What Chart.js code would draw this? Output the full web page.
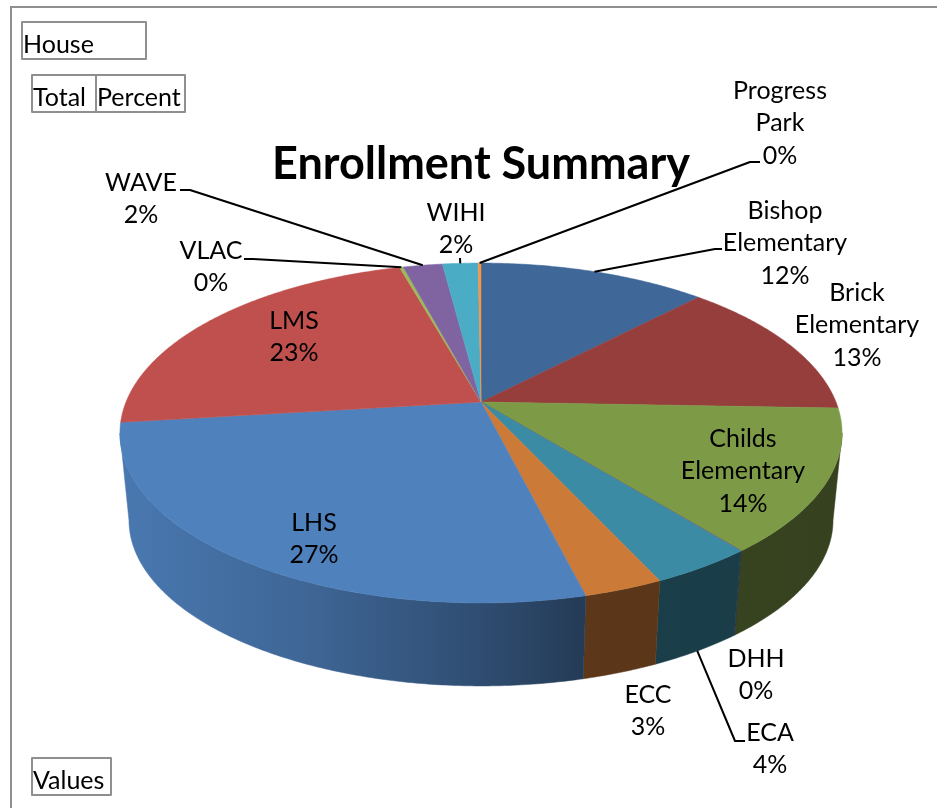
<!DOCTYPE html>
<html>
<head>
<meta charset="utf-8">
<style>html,body{margin:0;padding:0;background:#fff;overflow:hidden}canvas{display:block}</style>
<script src="https://cdn.jsdelivr.net/npm/chart.js@4"></script>
</head>
<body>
<canvas id="c" width="937" height="808"></canvas>
<script>
const chartTitle = 'Enrollment Summary';
const categories = ['Bishop Elementary','Brick Elementary','Childs Elementary','DHH','ECA','ECC','LHS','LMS','VLAC','WAVE','WIHI','Progress Park'];
const values = [12.2,13.4,13.6,0.03,3.9,3.0,27.0,22.6,0.2,2.1,1.9,0.15];
const percentLabels = ['12%','13%','14%','0%','4%','3%','27%','23%','0%','2%','2%','0%'];
const colors = ['#3F6797','#953E3C','#7D9A47','#644F80','#3B8BA5','#CC7A37','#4F81BD','#C0504D','#9BBB59','#8064A2','#4BACC6','#F79646'];
const fieldButtons = ['House','Total','Percent','Values'];

// layout of the text around the pie (not data)
const labelLines = [['Bishop','Elementary'],['Brick','Elementary'],['Childs','Elementary'],['DHH'],['ECA'],['ECC'],['LHS'],['LMS'],['VLAC'],['WAVE'],['WIHI'],['Progress','Park']];
const labelX = [785,857,743,756,770,648,314,294,211,141,456,780];
const labelY = [211,293,439,659,733,695,523,321,251,183,213,91];
const lineStep = 32.3;
// leaders: slice index, elbow points, whether anchored on bottom rim
const leaders = [
  {i:0, pts:[[715,249],[722,249]]},
  {i:4, pts:[[735,741],[745,741]], bottom:true},
  {i:8, pts:[[253,259],[244,259]]},
  {i:9, pts:[[190,190],[180,190]]},
  {i:10, pts:[[460,258]]},
  {i:11, pts:[[750,162],[760,162]]}
];
const buttonBoxes = [[22,22,124,37],[32,75,64,37],[96,75,89,37],[32,758,79,37]];

// pie projection
const P = {x:481, y:402, a:355, b:164.3, k:0.1824, s:0.975, yb:490};
function top3d(t){const u=Math.cos(t),v=Math.sin(t),w=1-P.k*v;return [P.x+P.a*u/w,P.y+P.b*v/w];}
function bot3d(t){const u=Math.cos(t),v=Math.sin(t),w=1-P.k*v;return [P.x+P.s*P.a*u/w,P.yb+P.s*P.b*v/w];}
function shade(hex,f){const n=parseInt(hex.slice(1),16);return `rgb(${Math.round((n>>16&255)*f)},${Math.round((n>>8&255)*f)},${Math.round((n&255)*f)})`;}
const FONT='Lato, Carlito, sans-serif';

const pie3d = {
  id:'pie3d',
  beforeDraw(chart){
    const c=chart.ctx;
    c.save();
    c.strokeStyle='#8f8f8f';c.lineWidth=2;
    c.beginPath();c.moveTo(11,808);c.lineTo(11,7);c.lineTo(937,7);c.stroke();
    c.restore();
  },
  beforeDatasetDraw(chart){
    const c=chart.ctx, arcs=chart.getDatasetMeta(0).data;
    const lo=Math.asin(P.k), hi=Math.PI-lo;
    c.save();
    arcs.forEach((el,i)=>{
      const s=el.startAngle, e=el.endAngle;
      const a0=Math.max(s,lo), a1=Math.min(e,hi);
      if(a1<=a0) return;
      const g=c.createLinearGradient(120,0,842,0), b=colors[i];
      [[0,.93],[.25,.8],[.5,.6],[.65,.45],[1,.43]].forEach(([o,f])=>g.addColorStop(o,shade(b,f)));
      c.beginPath();
      const n=Math.max(2,Math.ceil((a1-a0)/0.01));
      for(let j=0;j<=n;j++){const p=top3d(a0+(a1-a0)*j/n);j?c.lineTo(p[0],p[1]):c.moveTo(p[0],p[1]);}
      for(let j=n;j>=0;j--){const p=bot3d(a0+(a1-a0)*j/n);c.lineTo(p[0],p[1]);}
      c.closePath();c.fillStyle=g;c.strokeStyle=g;c.lineWidth=.5;c.fill();c.stroke();
    });
    arcs.forEach((el,i)=>{
      const s=el.startAngle,e=el.endAngle,n=Math.max(2,Math.ceil((e-s)/0.01));
      c.beginPath();c.moveTo(P.x,P.y);
      for(let j=0;j<=n;j++){const p=top3d(s+(e-s)*j/n);c.lineTo(p[0],p[1]);}
      c.closePath();c.fillStyle=colors[i];c.strokeStyle=colors[i];c.lineWidth=.5;c.fill();c.stroke();
    });
    c.restore();
    return false;
  },
  afterDatasetsDraw(chart){
    const c=chart.ctx, arcs=chart.getDatasetMeta(0).data;
    c.save();
    // leaders
    c.strokeStyle='#000';c.lineWidth=2;c.lineJoin='round';
    leaders.forEach(l=>{
      const el=arcs[l.i], m=(el.startAngle+el.endAngle)/2, p=l.bottom?bot3d(m):top3d(m);
      c.beginPath();c.moveTo(p[0],p[1]);
      l.pts.forEach(q=>c.lineTo(q[0],q[1]));
      c.stroke();
    });
    // labels
    c.fillStyle='#000';c.font='25px '+FONT;c.textAlign='center';c.textBaseline='middle';
    categories.forEach((name,i)=>{
      const lines=labelLines[i].concat(percentLabels[i]);
      lines.forEach((t,j)=>c.fillText(t,labelX[i],labelY[i]+j*lineStep));
    });
    // field buttons
    c.textAlign='left';
    fieldButtons.forEach((t,i)=>{
      const b=buttonBoxes[i];
      c.strokeStyle='#8f8f8f';c.lineWidth=2;c.strokeRect(b[0],b[1],b[2],b[3]);
      c.fillStyle='#000';c.fillText(t,b[0]+1,b[1]+b[3]/2+4);
    });
    c.restore();
  }
};

new Chart(document.getElementById('c'),{
  type:'pie',
  data:{labels:categories,datasets:[{data:values,backgroundColor:colors}]},
  options:{
    responsive:false,animation:false,
    layout:{padding:{left:25}},
    plugins:{
      legend:{display:false},tooltip:{enabled:false},
      title:{display:true,text:chartTitle,color:'#000',align:'center',
        font:{family:FONT,size:45,weight:'bold'},padding:{top:137,bottom:0}}
    }
  },
  plugins:[pie3d]
});
</script>
</body>
</html>
